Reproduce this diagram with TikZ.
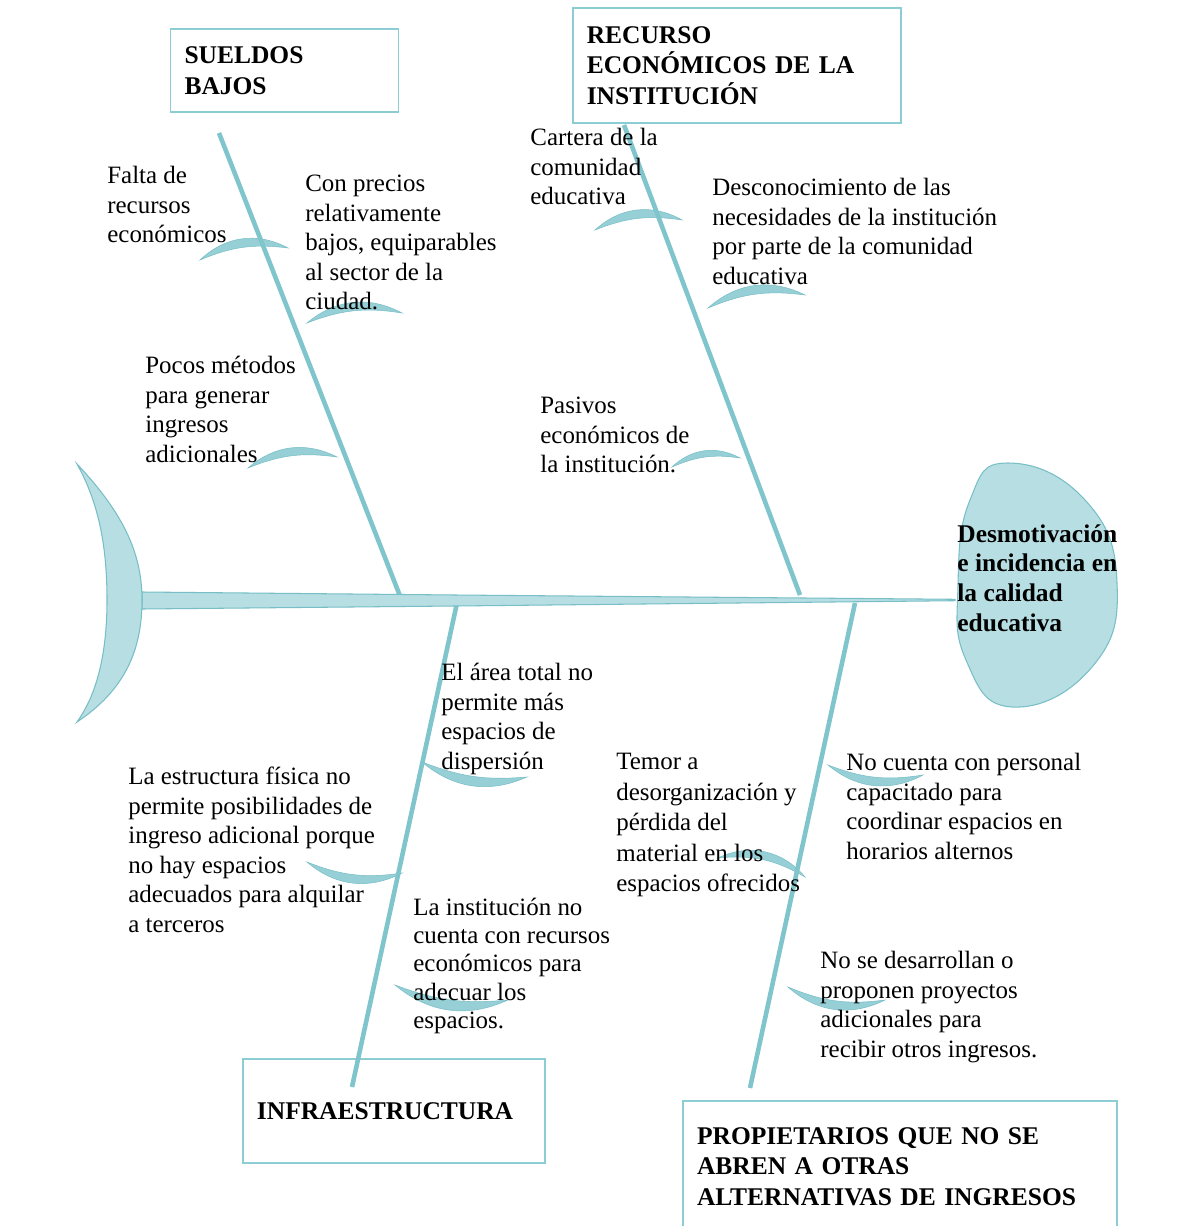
\documentclass[tikz,border=0pt]{standalone}
\usepackage{fontspec}
\setmainfont{Liberation Serif}
\definecolor{fillc}{RGB}{183,223,227}
\definecolor{linec}{RGB}{128,197,204}
\definecolor{ribc}{RGB}{150,208,214}
\definecolor{edgec}{RGB}{120,190,198}
\definecolor{boxc}{RGB}{140,205,211}
\newcommand\ribup[4]{\filldraw[rib] #1 to[bend left=#3] #2 to[bend right=#4] #1 -- cycle;}
\newcommand\ribdown[4]{\filldraw[rib] #1 to[bend right=#3] #2 to[bend left=#4] #1 -- cycle;}
\begin{document}
\begin{tikzpicture}[x=0.02cm,y=-0.02cm,
  lbl/.style={anchor=north west,inner sep=0pt,align=left,font=\fontsize{14.2}{16.8}\selectfont},
  headlbl/.style={anchor=north west,inner sep=0pt,align=left,font=\fontsize{14.5}{17}\selectfont\bfseries},
  catbox/.style={draw=boxc,line width=1.1pt,inner xsep=8pt,inner ysep=0pt,align=left,
    font=\fontsize{14.5}{17.4}\selectfont\bfseries},
  bone/.style={draw=linec,line width=2.6pt},
  rib/.style={fill=ribc,draw=edgec,line width=0.3pt},
  body/.style={fill=fillc,draw=edgec,line width=0.6pt}]
\useasboundingbox (0,0) rectangle (1179,1226);
\fill[white] (0,0) rectangle (1179,1226);

% ---- category boxes
\node[catbox,text width=113.8pt,minimum width=129.8pt,minimum height=47.1pt] (sueldos) at (284.5,70.5) {SUELDOS\\BAJOS};
\node[catbox,text width=171pt,minimum width=187.1pt,minimum height=65.2pt] (recurso) at (737,65.5) {RECURSO\\ECONÓMICOS DE LA\\INSTITUCIÓN};
\node[catbox,text width=156pt,minimum width=172.3pt,minimum height=59pt] (infra) at (394,1111) {INFRAESTRUCTURA};
\node[catbox,text width=231pt,minimum width=247.2pt,minimum height=74.3pt] (prop) at (900,1166.5) {PROPIETARIOS QUE NO SE\\ABREN A OTRAS\\ALTERNATIVAS DE INGRESOS};

% ---- ribs
\ribup{(200,260)}{(288,248)}{36}{15}
\ribup{(307,323)}{(402,313)}{34}{15}
\ribup{(248,468)}{(337,457)}{34}{15}
\ribup{(595,230)}{(682,220)}{36}{15}
\ribup{(708,308)}{(805,295)}{34}{15}
\ribup{(672,467)}{(740,458)}{36}{16}
\ribdown{(422,762)}{(527,777)}{32}{13}
\ribdown{(307,862)}{(402,873)}{34}{15}
\ribdown{(395,985)}{(508,1000)}{32}{13}
\ribdown{(828,765)}{(923,775)}{34}{15}
\ribup{(718,858)}{(805,877)}{38}{18}
\ribdown{(788,987)}{(885,1000)}{34}{15}

% ---- bones
\coordinate (b1s) at (219,133); \coordinate (b1e) at (400,596);
\coordinate (b2s) at (624,125); \coordinate (b2e) at (800,595);
\coordinate (b3s) at (457,603); \coordinate (b3e) at (352,1087);
\coordinate (b4s) at (855,603); \coordinate (b4e) at (750,1088);
\draw[bone] (b1s) -- (b1e);
\draw[bone] (b2s) -- (b2e);
\draw[bone] (b3s) -- (b3e);
\draw[bone] (b4s) -- (b4e);

% ---- spine
\filldraw[body] (142,592) -- (455,595) -- (955,599.3) -- (955,600.7) -- (455,606) -- (142,609) -- cycle;

% ---- tail
\filldraw[body] (77,464) .. controls (125,515) and (142,555) .. (142,600)
  .. controls (142,650) and (125,690) .. (77,722)
  .. controls (100,690) and (107,645) .. (107,600)
  .. controls (107,550) and (100,505) .. (77,464) -- cycle;

% ---- head
\filldraw[body] plot[smooth cycle,tension=0.8] coordinates {(1008,463) (1085,500) (1117,583) (1092,667) (1012,707) (966,660) (958,585) (970,500)};
\node[headlbl] (head) at (957,524) {Desmotivación\\e incidencia en\\la calidad\\educativa};

% ---- cause labels
\node[lbl] (falta) at (107,166) {Falta de\\recursos\\económicos};
\node[lbl] (precios) at (305,175) {Con precios\\relativamente\\bajos, equiparables\\al sector de la\\ciudad.};
\node[lbl] (pocos) at (145,356) {Pocos métodos\\para generar\\ingresos\\adicionales};
\node[lbl] (cartera) at (530,128) {Cartera de la\\comunidad\\educativa};
\node[lbl] (descon) at (712,178) {Desconocimiento de las\\necesidades de la institución\\por parte de la comunidad\\educativa};
\node[lbl] (pasivos) at (540,397) {Pasivos\\económicos de\\la institución.};
\node[lbl] (area) at (441,663) {El área total no\\permite más\\espacios de\\dispersión};
\node[lbl] (estruct) at (128,767) {La estructura física no\\permite posibilidades de\\ingreso adicional porque\\no hay espacios\\adecuados para alquilar\\a terceros};
\node[lbl,font=\fontsize{14.2}{17.4}\selectfont] (temor) at (616,753) {Temor a\\desorganización y\\pérdida del\\material en los\\espacios ofrecidos};
\node[lbl] (nocuenta) at (846,753) {No cuenta con personal\\capacitado para\\coordinar espacios en\\horarios alternos};
\node[lbl,font=\fontsize{14.2}{16}\selectfont] (instit) at (413,898) {La institución no\\cuenta con recursos\\económicos para\\adecuar los\\espacios.};
\node[lbl] (nose) at (820,951) {No se desarrollan o\\proponen proyectos\\adicionales para\\recibir otros ingresos.};
\end{tikzpicture}
\end{document}
